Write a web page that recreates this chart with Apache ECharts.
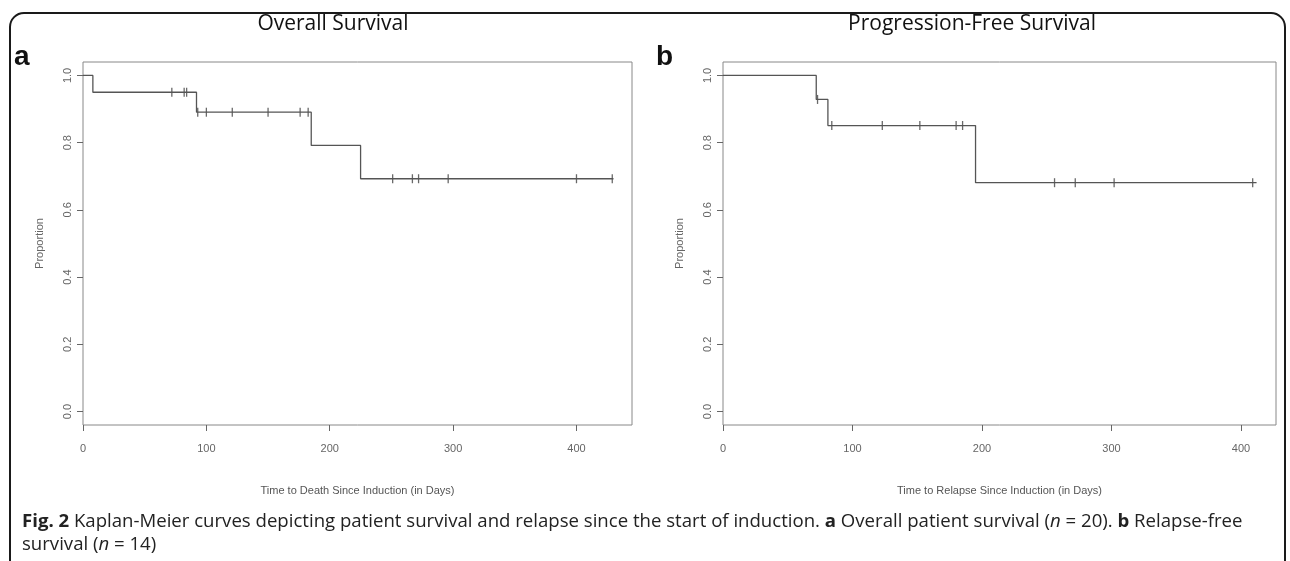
<!DOCTYPE html>
<html><head><meta charset="utf-8">
<script src="https://cdn.jsdelivr.net/npm/echarts@6/dist/echarts.min.js"></script>
<style>html,body{margin:0;padding:0;background:#fff}#c{width:1290px;height:561px}</style>
</head><body><div id="c"></div>
<script>
// ---- data ----
const xTicks = [0, 100, 200, 300, 400];
const yTicks = [0, 0.2, 0.4, 0.6, 0.8, 1.0];

// (a) Overall survival: step curve (time, proportion)
const osTimes    = [0, 8, 92, 185, 225, 430];
const osSurv     = [1.0, 0.95, 0.8906, 0.7917, 0.6927, 0.6927];
const osCensorT  = [72, 82, 84, 93, 100, 121, 150, 176, 182.5, 251, 267, 272, 296, 400, 429];
const osCensorS  = [0.95, 0.95, 0.95, 0.8906, 0.8906, 0.8906, 0.8906, 0.8906, 0.8906, 0.6927, 0.6927, 0.6927, 0.6927, 0.6927, 0.6927];

// (b) Progression-free survival
const pfsTimes   = [0, 72, 81, 195, 412];
const pfsSurv    = [1.0, 0.9286, 0.851, 0.6809, 0.6809];
const pfsCensorT = [73, 84, 123, 152, 180, 185, 256, 272, 302, 409];
const pfsCensorS = [0.9286, 0.851, 0.851, 0.851, 0.851, 0.851, 0.6809, 0.6809, 0.6809, 0.6809];

const titles = ['Overall Survival', 'Progression-Free Survival'];
const xNames = ['Time to Death Since Induction (in Days)', 'Time to Relapse Since Induction (in Days)'];
const xMax = [445, 427];

const zip = (a, b) => a.map((v, i) => [v, b[i]]);

const chart = echarts.init(document.getElementById('c'), null, {renderer: 'canvas'});

const gray = '#666';
function xAxis(i) {
  return {
    type: 'value', gridIndex: i, min: 0, max: xMax[i], position: 'bottom',
    name: xNames[i], nameLocation: 'middle', nameGap: 60,
    nameTextStyle: {fontFamily: 'Liberation Sans Narrow, Liberation Sans, Arial', fontSize: 11, color: '#555'},
    axisLine: {show: false, onZero: false},
    axisTick: {show: true, inside: false, length: 6, lineStyle: {color: gray}, customValues: xTicks},
    axisLabel: {customValues: xTicks, fontFamily: 'Liberation Sans, Arial', fontSize: 11, color: gray, margin: 18},
    splitLine: {show: false}
  };
}
function yAxis(i) {
  return {
    type: 'value', gridIndex: i, min: -0.04, max: 1.04, position: 'left',
    name: 'Proportion', nameLocation: 'middle', nameGap: 38,
    nameTextStyle: {fontFamily: 'Liberation Sans, Arial', fontSize: 11, color: gray},
    axisLine: {show: false, onZero: false},
    axisTick: {show: true, inside: false, length: 6, lineStyle: {color: gray}, customValues: yTicks},
    axisLabel: {customValues: yTicks, rotate: 90, fontFamily: 'Liberation Sans, Arial', fontSize: 11, color: gray, margin: 10,
      formatter: v => v.toFixed(1)},
    splitLine: {show: false}
  };
}

const curveStyle = {color: '#555', width: 1.3};
const censor = {symbol: 'rect', symbolSize: [1.3, 9], itemStyle: {color: '#444'}};

const capFont = "'Open Sans', 'Noto Sans', sans-serif";
chart.setOption({
  animation: false,
  grid: [
    {left: 83, top: 62, width: 549, height: 363, show: true, borderColor: '#888', borderWidth: 1},
    {left: 723, top: 62, width: 553, height: 363, show: true, borderColor: '#888', borderWidth: 1}
  ],
  xAxis: [xAxis(0), xAxis(1)],
  yAxis: [yAxis(0), yAxis(1)],
  series: [
    {type: 'line', xAxisIndex: 0, yAxisIndex: 0, step: 'end', showSymbol: false, lineStyle: curveStyle, data: zip(osTimes, osSurv)},
    Object.assign({type: 'scatter', xAxisIndex: 0, yAxisIndex: 0, data: zip(osCensorT, osCensorS)}, censor),
    {type: 'line', xAxisIndex: 1, yAxisIndex: 1, step: 'end', showSymbol: false, lineStyle: curveStyle, data: zip(pfsTimes, pfsSurv)},
    Object.assign({type: 'scatter', xAxisIndex: 1, yAxisIndex: 1, data: zip(pfsCensorT, pfsCensorS)}, censor)
  ],
  graphic: [
    {type: 'rect', shape: {x: 10, y: 13, width: 1275, height: 620, r: 14}, style: {fill: 'none', stroke: '#1a1a1a', lineWidth: 2}, silent: true},
    {type: 'text', left: 14, top: 43, style: {text: 'a', font: "bold 28px 'Liberation Sans', Arial", fill: '#111'}},
    {type: 'text', left: 656, top: 43, style: {text: 'b', font: "bold 28px 'Liberation Sans', Arial", fill: '#111'}},
    {type: 'text', x: 333, y: 24, style: {text: titles[0], font: "21px " + capFont, fill: '#111', align: 'center', verticalAlign: 'middle'}},
    {type: 'text', x: 972, y: 24, style: {text: titles[1], font: "21px " + capFont, fill: '#111', align: 'center', verticalAlign: 'middle'}},
    {type: 'text', x: 22, y: 510, style: {
      text: '{b|Fig. 2} Kaplan-Meier curves depicting patient survival and relapse since the start of induction. {b|a} Overall patient survival ({i|n} = 20). {b|b} Relapse-free\nsurvival ({i|n} = 14)',
      font: "18.6px " + capFont, fill: '#222', verticalAlign: 'top', lineHeight: 23,
      rich: {
        b: {fontWeight: 'bold', fontSize: 18.6, fontFamily: capFont, fill: '#222', lineHeight: 23},
        i: {fontStyle: 'italic', fontSize: 18.6, fontFamily: capFont, fill: '#222', lineHeight: 23}
      }
    }}
  ]
});
</script></body></html>
